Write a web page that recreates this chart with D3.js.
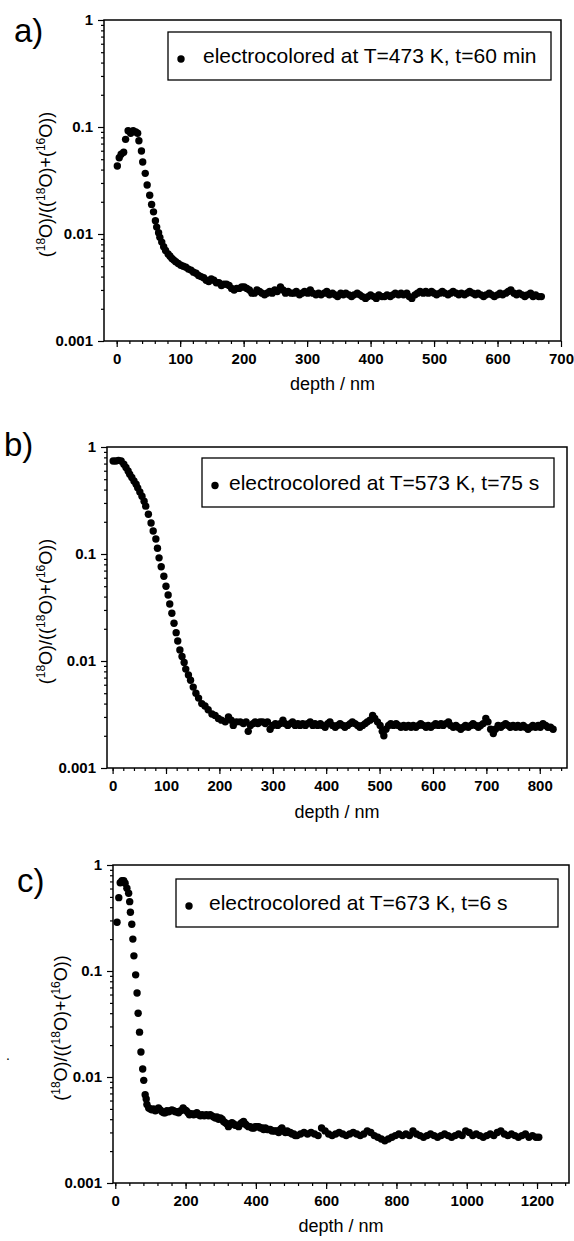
<!DOCTYPE html>
<meta charset="utf-8">
<title>18O depth profiles</title>
<style>
body { margin: 0; background: #fff; }
svg { font-family: "Liberation Sans", Arial, sans-serif; }
.tick text { font-size: 15px; font-weight: bold; fill: #000; }
.domain { display: none; }
.tick line { stroke: #000; stroke-width: 1.2; }
</style>
<svg></svg>
<script src="https://d3js.org/d3.v7.min.js"></script>
<script>
var width = 574, height = 1241;

// y tick labels (log axis, same for all three panels)
var yTickValues = [1, 0.1, 0.01, 0.001];
var yTickLabels = ["1", "0.1", "0.01", "0.001"];

// legend texts
var legendA = "electrocolored at T=473 K, t=60 min";
var legendB = "electrocolored at T=573 K, t=75 s";
var legendC = "electrocolored at T=673 K, t=6 s";

// [depth nm, 18O fraction]
var profileA = [[1,0.0432],[4,0.0516],[7,0.0556],[11,0.058],[14,0.0767],[18,0.0923],[22,0.0873],[26,0.0923],[30,0.090],[33,0.0873],[35,0.0744],[39,0.0597],[41,0.0471],[45,0.0369],[48,0.0287],[52,0.023],[55,0.0189],[58,0.0161],[61,0.0133],[63,0.0116],[66,0.0103],[68,0.0093],[71,0.0084],[74,0.0076],[77,0.0070],[81,0.0065],[84,0.0062],[87,0.0059],[90,0.0057],[93,0.0055],[97,0.0053],[101,0.0051],[105,0.0050],[109,0.0049],[113,0.0047],[117,0.0046],[121,0.0044],[125,0.0043],[129,0.0041],[133,0.0040],[137,0.0039],[141,0.0037],[145,0.0036],[149,0.0038],[153,0.0037],[157,0.0035],[161,0.0035],[165,0.0033],[169,0.0034],[173,0.0034],[177,0.0033],[181,0.0031],[185,0.0030],[189,0.0031],[193,0.0031],[197,0.0032],[201,0.0032],[205,0.0031],[209,0.0030],[213,0.0028],[217,0.0028],[221,0.0030],[225,0.0029],[229,0.0028],[233,0.0027],[237,0.0028],[241,0.0029],[245,0.0028],[249,0.0030],[253,0.0029],[258,0.0032],[262,0.0030],[266,0.0028],[270,0.0029],[275,0.0028],[279,0.0028],[283,0.0029],[288,0.0027],[292,0.0028],[296,0.0029],[301,0.0028],[305,0.0030],[309,0.0028],[314,0.0027],[318,0.0028],[322,0.0027],[327,0.0028],[331,0.0029],[335,0.0027],[340,0.0028],[344,0.0027],[348,0.0026],[353,0.0028],[357,0.0027],[361,0.0028],[366,0.0027],[370,0.0026],[374,0.0027],[379,0.0028],[383,0.0027],[387,0.0026],[392,0.0025],[396,0.0026],[400,0.0027],[405,0.0026],[409,0.0025],[413,0.0027],[418,0.0026],[422,0.0026],[426,0.0027],[431,0.0026],[435,0.0027],[439,0.0028],[444,0.0027],[448,0.0028],[452,0.0027],[457,0.0028],[461,0.0026],[465,0.0025],[470,0.0027],[474,0.0028],[478,0.0029],[483,0.0028],[487,0.0029],[491,0.0028],[496,0.0029],[500,0.0028],[504,0.0027],[509,0.0028],[513,0.0029],[517,0.0028],[522,0.0027],[526,0.0028],[530,0.0029],[535,0.0028],[539,0.0027],[543,0.0028],[548,0.0027],[552,0.0028],[556,0.0029],[561,0.0028],[565,0.0027],[569,0.0028],[574,0.0027],[578,0.0026],[582,0.0027],[587,0.0028],[591,0.0027],[595,0.0026],[600,0.0027],[604,0.0028],[608,0.0027],[613,0.0028],[617,0.0029],[621,0.0030],[626,0.0028],[630,0.0027],[634,0.0028],[639,0.0027],[643,0.0026],[647,0.0027],[652,0.0028],[656,0.0026],[660,0.0027],[665,0.0026],[669,0.0026]];

var profileB = [[1,0.74],[6,0.74],[11,0.75],[16,0.74],[21,0.69],[25,0.643],[29,0.597],[32,0.556],[36,0.518],[40,0.482],[44,0.449],[47,0.415],[51,0.38],[55,0.347],[59,0.311],[62,0.28],[67,0.235],[72,0.195],[76,0.164],[81,0.138],[84,0.113],[87,0.092],[91,0.076],[96,0.062],[100,0.050],[104,0.0414],[107,0.0341],[111,0.0279],[115,0.0225],[119,0.0184],[122,0.0154],[126,0.0127],[130,0.011],[134,0.0097],[137,0.0084],[142,0.0074],[146,0.0066],[151,0.0057],[156,0.0050],[161,0.0045],[167,0.0040],[173,0.0038],[179,0.0035],[186,0.0032],[192,0.0031],[198,0.0029],[204,0.0028],[211,0.0027],[217,0.0030],[222,0.0028],[226,0.0025],[232,0.0027],[239,0.0027],[245,0.0026],[250,0.0027],[254,0.0022],[258,0.0025],[263,0.0026],[267,0.0027],[272,0.0026],[276,0.0027],[281,0.0027],[286,0.0026],[290,0.0027],[295,0.0023],[300,0.0025],[305,0.0026],[309,0.0025],[314,0.0026],[319,0.0028],[323,0.0026],[328,0.0025],[333,0.0026],[337,0.0027],[342,0.0025],[347,0.0026],[351,0.0025],[356,0.0026],[361,0.0025],[365,0.0026],[370,0.0027],[375,0.0025],[379,0.0026],[384,0.0025],[389,0.0026],[393,0.0025],[398,0.0024],[403,0.0026],[407,0.0027],[412,0.0025],[417,0.0024],[421,0.0025],[426,0.0026],[431,0.0025],[435,0.0024],[440,0.0025],[445,0.0026],[449,0.0027],[454,0.0026],[459,0.0025],[463,0.0024],[468,0.0025],[473,0.0026],[477,0.0027],[482,0.0028],[487,0.0031],[491,0.0029],[496,0.0027],[501,0.0025],[505,0.0022],[508,0.0020],[512,0.0023],[517,0.0025],[521,0.0026],[526,0.0025],[531,0.0026],[535,0.0025],[540,0.0024],[545,0.0025],[549,0.0024],[554,0.0025],[559,0.0024],[563,0.0025],[568,0.0024],[573,0.0025],[577,0.0026],[582,0.0025],[587,0.0024],[591,0.0025],[596,0.0024],[601,0.0025],[605,0.0026],[610,0.0025],[615,0.0026],[619,0.0025],[624,0.0026],[629,0.0027],[633,0.0025],[638,0.0024],[643,0.0025],[647,0.0024],[652,0.0023],[657,0.0024],[661,0.0025],[666,0.0024],[671,0.0025],[675,0.0026],[680,0.0025],[685,0.0024],[689,0.0025],[694,0.0026],[699,0.0029],[703,0.0027],[708,0.0023],[713,0.0021],[717,0.0023],[722,0.0025],[727,0.0024],[731,0.0025],[736,0.0026],[741,0.0025],[745,0.0024],[750,0.0025],[755,0.0024],[759,0.0025],[764,0.0024],[769,0.0025],[773,0.0024],[778,0.0023],[783,0.0024],[787,0.0025],[792,0.0024],[797,0.0025],[801,0.0024],[806,0.0026],[811,0.0025],[815,0.0024],[820,0.0024],[825,0.0023]];

var profileC = [[5,0.288],[10,0.492],[14,0.681],[19,0.711],[24,0.711],[28,0.672],[33,0.603],[38,0.541],[41,0.451],[43,0.358],[47,0.276],[50,0.200],[53,0.139],[58,0.092],[62,0.062],[65,0.040],[69,0.0265],[73,0.0172],[78,0.0119],[81,0.0093],[85,0.0068],[88,0.0062],[90,0.0055],[95,0.0051],[100,0.0050],[104,0.0049],[109,0.0050],[114,0.0048],[118,0.0049],[123,0.0051],[128,0.0049],[133,0.0047],[138,0.0046],[142,0.0046],[147,0.0048],[152,0.0047],[157,0.0048],[161,0.0049],[166,0.0048],[171,0.0047],[176,0.0047],[180,0.0046],[186,0.0048],[193,0.0051],[198,0.0049],[202,0.0048],[207,0.0046],[211,0.0044],[217,0.0045],[223,0.0044],[228,0.0045],[232,0.0046],[237,0.0044],[242,0.0043],[247,0.0044],[253,0.0043],[259,0.0044],[265,0.0043],[270,0.0044],[275,0.0043],[280,0.0042],[285,0.0041],[289,0.0042],[294,0.0040],[299,0.0041],[304,0.0040],[308,0.0038],[313,0.0037],[318,0.0036],[322,0.0034],[327,0.0036],[332,0.0037],[337,0.0036],[341,0.0035],[346,0.0035],[351,0.0034],[356,0.0036],[360,0.0037],[365,0.0038],[370,0.0036],[374,0.0035],[379,0.0034],[384,0.0034],[389,0.0033],[394,0.0033],[398,0.0034],[403,0.0034],[408,0.0034],[413,0.0033],[418,0.0033],[422,0.0032],[427,0.0033],[432,0.0032],[436,0.0032],[441,0.0032],[446,0.0031],[450,0.0031],[455,0.0031],[460,0.0031],[465,0.0030],[470,0.0032],[474,0.0033],[479,0.0031],[484,0.0030],[489,0.0031],[494,0.0030],[498,0.0030],[503,0.0029],[508,0.0029],[512,0.0028],[517,0.0028],[527,0.0029],[537,0.0030],[547,0.0029],[557,0.0030],[567,0.0029],[577,0.0028],[587,0.0033],[597,0.0031],[607,0.0029],[617,0.0028],[627,0.0029],[637,0.0030],[647,0.0029],[657,0.0028],[667,0.0029],[677,0.0030],[687,0.0029],[697,0.0028],[707,0.0029],[717,0.0031],[727,0.0030],[737,0.0028],[747,0.0027],[757,0.0026],[767,0.0025],[777,0.0026],[787,0.0027],[797,0.0028],[807,0.0029],[817,0.0028],[827,0.0029],[837,0.0028],[847,0.0031],[857,0.0029],[867,0.0028],[877,0.0027],[887,0.0028],[897,0.0029],[907,0.0028],[917,0.0027],[927,0.0028],[937,0.0029],[947,0.0028],[957,0.0027],[967,0.0028],[977,0.0029],[987,0.0028],[997,0.0031],[1007,0.0030],[1017,0.0028],[1027,0.0029],[1037,0.0028],[1047,0.0027],[1057,0.0028],[1067,0.0029],[1077,0.0028],[1087,0.0030],[1097,0.0031],[1107,0.0029],[1117,0.0028],[1127,0.0029],[1137,0.0028],[1147,0.0027],[1157,0.0028],[1167,0.0029],[1177,0.0027],[1187,0.0028],[1197,0.0027],[1205,0.0027]];

var svg = d3.select("svg").attr("width", width).attr("height", height);

// minor ticks on the log axis: 2..9 in each decade
var yMinor = [];
[0.001, 0.01, 0.1].forEach(function(d) {
  d3.range(2, 10).forEach(function(k) { yMinor.push(k * d); });
});

function drawPanel(p) {
  var x = d3.scaleLinear().domain(p.xDomain).range([p.left, p.right]);
  var y = d3.scaleLog().domain([0.001, 1]).range([p.bottom, p.top]);
  var g = svg.append("g");

  // minor ticks
  g.append("g")
    .attr("transform", "translate(0," + p.bottom + ")")
    .call(d3.axisBottom(x).tickValues(p.xMinor).tickSize(3).tickFormat(""));
  g.append("g")
    .attr("transform", "translate(" + p.left + ",0)")
    .call(d3.axisLeft(y).tickValues(yMinor).tickSize(3).tickFormat(""));

  // major ticks + labels
  g.append("g")
    .attr("transform", "translate(0," + p.bottom + ")")
    .call(d3.axisBottom(x).tickValues(p.xMajor).tickSize(6).tickPadding(p.xPad).tickFormat(d3.format("d")));
  g.append("g")
    .attr("transform", "translate(" + p.left + ",0)")
    .call(d3.axisLeft(y).tickValues(yTickValues).tickSize(6).tickPadding(5)
      .tickFormat(function(d, i) { return yTickLabels[i]; }));

  // frame
  g.append("rect")
    .attr("x", p.left).attr("y", p.top)
    .attr("width", p.right - p.left).attr("height", p.bottom - p.top)
    .attr("fill", "none").attr("stroke", "#000").attr("stroke-width", 1.5);

  // data
  g.append("g").selectAll("circle")
    .data(p.data)
    .enter().append("circle")
    .attr("cx", function(d) { return x(d[0]); })
    .attr("cy", function(d) { return y(d[1]); })
    .attr("r", 3.7)
    .attr("fill", "#000");

  // axis titles
  g.append("text")
    .attr("x", (p.left + p.right) / 2).attr("y", p.xTitleY)
    .attr("text-anchor", "middle").attr("font-size", 18)
    .text("depth / nm");

  var yt = g.append("text")
    .attr("transform", "translate(" + p.yTitleX + "," + ((p.top + p.bottom) / 2 + 4) + ") rotate(-90)")
    .attr("text-anchor", "middle").attr("font-size", 18);
  [["(", ""], ["18", "O)/(("], ["18", "O)+("], ["16", "O))"]].forEach(function(part, i) {
    if (i === 0) { yt.append("tspan").text(part[0]); return; }
    yt.append("tspan").attr("font-size", 12).attr("dy", -7).text(part[0]);
    yt.append("tspan").attr("dy", 7).text(part[1]);
  });

  // panel letter
  g.append("text")
    .attr("x", p.letterX).attr("y", p.letterY)
    .attr("font-size", 33)
    .text(p.letter);

  // legend
  var lg = p.legend;
  g.append("rect")
    .attr("x", lg.x).attr("y", lg.y).attr("width", lg.w).attr("height", lg.h)
    .attr("fill", "#fff").attr("stroke", "#000").attr("stroke-width", 1.3);
  g.append("circle")
    .attr("cx", lg.x + 13).attr("cy", lg.y + lg.h / 2 + 3).attr("r", 3.7).attr("fill", "#000");
  g.append("text")
    .attr("x", lg.x + lg.tx).attr("y", lg.y + lg.h / 2 + 7)
    .attr("font-size", 21)
    .text(lg.text);
}

drawPanel({
  data: profileA, letter: "a)", letterX: 14, letterY: 42,
  left: 104, right: 561, top: 20, bottom: 341,
  xDomain: [-20, 700], xMajor: d3.range(0, 701, 100), xMinor: d3.range(0, 700, 20), xPad: 6,
  xTitleY: 390, yTitleX: 52,
  legend: { x: 168, y: 32, w: 383, h: 48, tx: 35, text: legendA }
});

drawPanel({
  data: profileB, letter: "b)", letterX: 4, letterY: 456,
  left: 107, right: 567, top: 447, bottom: 768,
  xDomain: [-10.5, 851], xMajor: d3.range(0, 801, 100), xMinor: d3.range(0, 850, 20), xPad: 6,
  xTitleY: 818, yTitleX: 52,
  legend: { x: 202, y: 458, w: 352, h: 49, tx: 27, text: legendB }
});

drawPanel({
  data: profileC, letter: "c)", letterX: 17, letterY: 892,
  left: 113, right: 569, top: 865, bottom: 1183,
  xDomain: [-6.5, 1291], xMajor: d3.range(0, 1201, 200), xMinor: d3.range(0, 1290, 40), xPad: 6,
  xTitleY: 1232, yTitleX: 67,
  legend: { x: 176, y: 879, w: 382, h: 48, tx: 33, text: legendC }
});

// stray speck left of panel c in the scan
svg.append("text").attr("x", 6).attr("y", 1060).attr("font-size", 14).text(".");
</script>
